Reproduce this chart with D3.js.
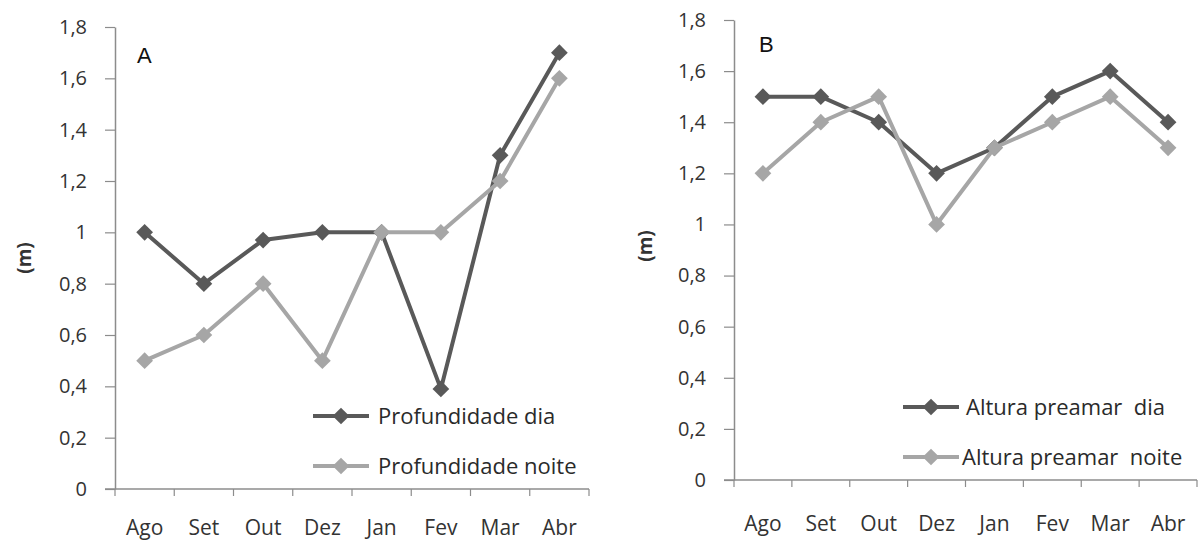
<!DOCTYPE html>
<html>
<head>
<meta charset="utf-8">
<script src="https://cdn.jsdelivr.net/npm/d3@7"></script>
<style>
  body { margin: 0; background: #fff; }
</style>
</head>
<body>
<div id="chart"></div>
<script>
  var months = ['Ago', 'Set', 'Out', 'Dez', 'Jan', 'Fev', 'Mar', 'Abr'];
  var yTicks = [0, 0.2, 0.4, 0.6, 0.8, 1, 1.2, 1.4, 1.6, 1.8];

  var profDia = [1.0, 0.8, 0.97, 1.0, 1.0, 0.39, 1.3, 1.7];
  var profNoite = [0.5, 0.6, 0.8, 0.5, 1.0, 1.0, 1.2, 1.6];
  var altDia = [1.5, 1.5, 1.4, 1.2, 1.3, 1.5, 1.6, 1.4];
  var altNoite = [1.2, 1.4, 1.5, 1.0, 1.3, 1.4, 1.5, 1.3];

  var darkColor = '#595959';
  var lightColor = '#a6a6a6';
  var font = '"Open Sans", "Noto Sans", sans-serif';

  var svg = d3.select('#chart')
    .append('svg')
    .attr('width', 1201)
    .attr('height', 543)
    .style('display', 'block');

  function fmt(v) {
    return String(+v.toFixed(1)).replace('.', ',');
  }

  function drawChart(cfg) {
    var g = svg.append('g');

    var x = d3.scaleBand()
      .domain(months)
      .range([cfg.left, cfg.right]);

    var y = d3.scaleLinear()
      .domain([0, 1.8])
      .range([cfg.bottom, cfg.top]);

    // y axis
    var yAxis = g.append('g')
      .attr('transform', 'translate(' + cfg.left + ',0)')
      .call(d3.axisLeft(y).tickValues(yTicks).tickFormat(fmt).tickSize(10).tickSizeOuter(0));
    yAxis.select('.domain').attr('stroke', '#8c8c8c').attr('stroke-width', 1.5);
    yAxis.selectAll('.tick line').attr('stroke', '#8c8c8c').attr('stroke-width', 1.2);
    yAxis.selectAll('.tick text')
      .attr('x', -28)
      .attr('fill', '#333')
      .style('font-family', font)
      .style('font-size', '20px');

    // x axis, ticks at band boundaries
    var xg = g.append('g')
      .attr('transform', 'translate(0,' + cfg.bottom + ')');
    xg.append('line')
      .attr('x1', cfg.left - 10).attr('x2', cfg.right)
      .attr('stroke', '#8c8c8c').attr('stroke-width', 1.5);
    var edges = months.map(function(m) { return x(m); }).concat([cfg.right]);
    xg.selectAll('.xt')
      .data(edges)
      .enter()
      .append('line')
      .attr('x1', function(d) { return d; })
      .attr('x2', function(d) { return d; })
      .attr('y1', 0).attr('y2', 7)
      .attr('stroke', '#8c8c8c').attr('stroke-width', 1.2);
    xg.selectAll('.xl')
      .data(months)
      .enter()
      .append('text')
      .attr('x', function(d) { return x(d) + x.bandwidth() / 2; })
      .attr('y', cfg.labelY - cfg.bottom)
      .attr('text-anchor', 'middle')
      .attr('fill', '#333')
      .style('font-family', font)
      .style('font-size', '21px')
      .text(function(d) { return d; });

    // axis title
    g.append('text')
      .attr('transform', 'translate(' + cfg.titleX + ',' + cfg.titleY + ') rotate(-90)')
      .attr('text-anchor', 'middle')
      .attr('dy', '0.35em')
      .attr('fill', '#333')
      .style('font-family', font)
      .style('font-size', '19px')
      .style('font-weight', 'bold')
      .text('(m)');

    // panel letter
    g.append('text')
      .attr('x', cfg.letterX)
      .attr('y', cfg.letterY)
      .attr('fill', '#111')
      .style('font-family', '"Liberation Sans", Arial, sans-serif')
      .style('font-size', '22px')
      .text(cfg.letter);

    var line = d3.line()
      .x(function(d, i) { return x(months[i]) + x.bandwidth() / 2; })
      .y(function(d) { return y(d); });

    var diamond = d3.symbol().type(d3.symbolSquare).size(140);

    cfg.series.forEach(function(s) {
      g.append('path')
        .datum(s.values)
        .attr('d', line)
        .attr('fill', 'none')
        .attr('stroke', s.color)
        .attr('stroke-width', 4)
        .attr('stroke-linejoin', 'round');

      g.selectAll(null)
        .data(s.values)
        .enter()
        .append('path')
        .attr('d', diamond)
        .attr('fill', s.color)
        .attr('transform', function(d, i) {
          return 'translate(' + (x(months[i]) + x.bandwidth() / 2) + ',' + y(d) + ') rotate(45)';
        });
    });

    // legend
    var legend = g.selectAll('.legend')
      .data(cfg.series)
      .enter()
      .append('g')
      .attr('class', 'legend')
      .attr('transform', function(d, i) {
        return 'translate(' + cfg.legendX + ',' + (cfg.legendY + i * cfg.legendStep) + ')';
      });

    legend.append('line')
      .attr('x1', 0).attr('x2', 56)
      .attr('stroke', function(d) { return d.color; })
      .attr('stroke-width', 4);

    legend.append('path')
      .attr('d', diamond)
      .attr('fill', function(d) { return d.color; })
      .attr('transform', 'translate(28,0) rotate(45)');

    legend.append('text')
      .attr('x', function(d) { return d.textX; })
      .attr('dy', '0.35em')
      .attr('fill', '#2a2a2a')
      .style('font-family', font)
      .style('font-size', '22px')
      .style('white-space', 'pre')
      .text(function(d) { return d.label; });
  }

  drawChart({
    left: 115, right: 589, top: 27, bottom: 489,
    labelY: 535, titleX: 24, titleY: 258,
    letter: 'A', letterX: 137, letterY: 63,
    legendX: 313, legendY: 416, legendStep: 50,
    series: [
      { label: 'Profundidade dia', values: profDia, color: darkColor, textX: 65 },
      { label: 'Profundidade noite', values: profNoite, color: lightColor, textX: 65 }
    ]
  });

  drawChart({
    left: 734, right: 1197, top: 20, bottom: 480,
    labelY: 531, titleX: 645, titleY: 246,
    letter: 'B', letterX: 759, letterY: 52,
    legendX: 903, legendY: 407, legendStep: 50,
    series: [
      { label: 'Altura preamar  dia', values: altDia, color: darkColor, textX: 63 },
      { label: 'Altura preamar  noite', values: altNoite, color: lightColor, textX: 59 }
    ]
  });
</script>
</body>
</html>
